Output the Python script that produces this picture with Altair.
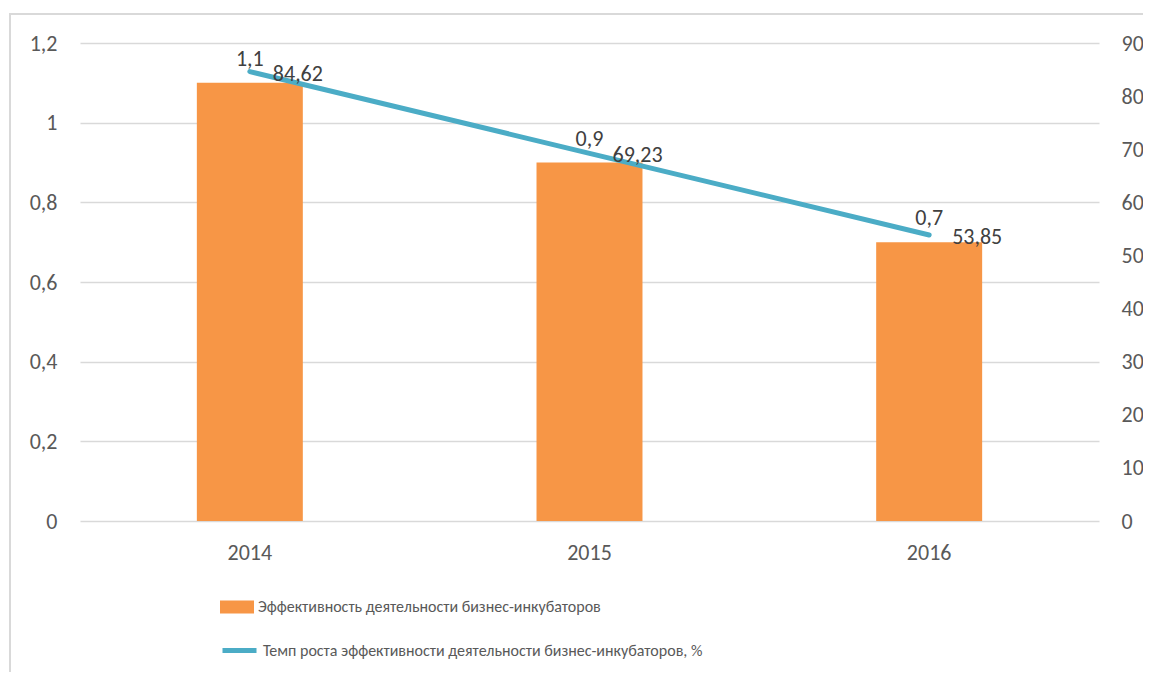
import altair as alt
import pandas as pd

years = ["2014", "2015", "2016"]
efficiency = [1.1, 0.9, 0.7]
growth = [84.62, 69.23, 53.85]
bar_name = "Эффективность деятельности бизнес-инкубаторов"
line_name = "Темп роста эффективности деятельности бизнес-инкубаторов, %"

df = pd.DataFrame({
    "year": years,
    "eff": efficiency,
    "growth": growth,
    "eff_label": [str(v).replace(".", ",") for v in efficiency],
    "growth_label": [f"{v:.2f}".replace(".", ",") for v in growth],
    "bar_series": [bar_name] * 3,
    "line_series": [line_name] * 3,
})

W, H = 1019, 478
NUM_FONT = "Carlito, Liberation Sans"
NUM_SIZE = 22
TXT_FONT = "Carlito, Liberation Sans"
TXT_SIZE = 16
AX_COL = "#595959"
LBL_COL = "#404040"
GRID = "#D9D9D9"

xenc = alt.X("year:N", title=None,
             scale=alt.Scale(paddingInner=0.688, paddingOuter=0.344),
             axis=alt.Axis(labelAngle=0, ticks=False, domain=False, labelPadding=21,
                           labelFont=NUM_FONT, labelFontSize=NUM_SIZE, labelColor=AX_COL))

y_left = alt.Y("eff:Q", title=None,
               scale=alt.Scale(domain=[0, 1.2], nice=False, zero=True),
               axis=alt.Axis(orient="left", values=[0, 0.2, 0.4, 0.6, 0.8, 1.0, 1.2],
                             labelExpr="replace(format(datum.value, '~g'), '.', ',')",
                             ticks=False, domain=False, grid=True, gridColor=GRID,
                             gridWidth=1.5, labelPadding=23, labelFont=NUM_FONT,
                             labelFontSize=NUM_SIZE, labelColor=AX_COL, title=None))

y_right = alt.Y("growth:Q", title=None,
                scale=alt.Scale(domain=[0, 90], nice=False),
                axis=alt.Axis(orient="right", values=list(range(0, 91, 10)),
                              ticks=False, domain=False, grid=False, labelPadding=22,
                              labelFont=NUM_FONT, labelFontSize=NUM_SIZE, labelColor=AX_COL,
                              title=None))

base = alt.Chart(df)

frame = alt.Chart(pd.DataFrame({"a": [0]})).mark_rect(
    filled=False, stroke=GRID, strokeWidth=2, clip=False
).encode(x=alt.value(-70), x2=alt.value(1200), y=alt.value(-29), y2=alt.value(800))

bars = base.mark_bar(color="#F79646").encode(
    x=xenc,
    y=y_left,
    fill=alt.Fill("bar_series:N", title=None,
                  scale=alt.Scale(domain=[bar_name], range=["#F79646"]),
                  legend=alt.Legend(orient="none", legendX=140, legendY=547,
                                    symbolType="M-1,-0.38H1V0.38H-1Z", symbolSize=1156,
                                    symbolStrokeWidth=0, labelOffset=4, padding=0,
                                    labelFont=TXT_FONT, labelFontSize=TXT_SIZE,
                                    labelColor=AX_COL, labelLimit=800)),
)

bar_text = base.mark_text(baseline="alphabetic", dy=-17, font=NUM_FONT,
                          fontSize=NUM_SIZE, color=LBL_COL).encode(
    x=xenc,
    y=y_left,
    text="eff_label:N",
)

left = alt.layer(bars, bar_text)

line = base.mark_line(strokeWidth=5, strokeCap="round").encode(
    x=xenc,
    y=y_right,
    stroke=alt.Stroke("line_series:N", title=None,
                      scale=alt.Scale(domain=[line_name], range=["#4BACC6"]),
                      legend=alt.Legend(orient="none", legendX=140, legendY=588,
                                        symbolType="stroke", symbolSize=1156,
                                        symbolStrokeWidth=5, labelOffset=4, padding=0,
                                        labelFont=TXT_FONT, labelFontSize=TXT_SIZE,
                                        labelColor=AX_COL, labelLimit=800)),
)

line_text = base.mark_text(align="left", baseline="alphabetic", dx=23, dy=9,
                           font=NUM_FONT, fontSize=NUM_SIZE, color=LBL_COL).encode(
    x=xenc,
    y=y_right,
    text="growth_label:N",
)

right = alt.layer(line, line_text)

chart = alt.layer(frame, left, right).resolve_scale(y="independent").properties(
    width=W, height=H,
    autosize=alt.AutoSizeParams(type="none"),
    padding={"left": 72, "top": 35, "right": 44, "bottom": 151},
).configure(background="white").configure_view(stroke="transparent", strokeWidth=0)

chart.save("out.html", embed_options={"renderer": "svg", "actions": False})
